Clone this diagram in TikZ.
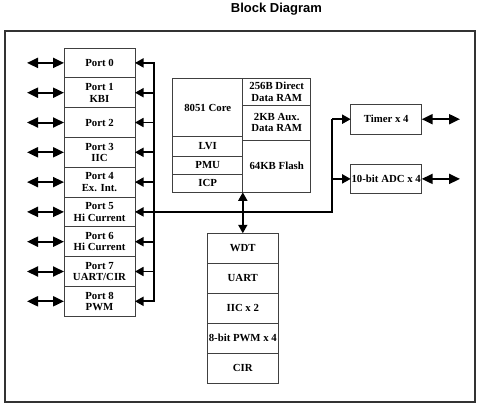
\documentclass[tikz,border=0pt]{standalone}
\usepackage{fontspec}
\setmainfont{Liberation Serif}
\newfontfamily\headfont{Liberation Sans}
\usetikzlibrary{arrows.meta,positioning}

\tikzset{
  blk/.style={draw=black!75,line width=0.8pt,outer sep=0pt,inner sep=0pt,
    minimum width=71pt,minimum height=29.8pt,align=center,
    font=\fontsize{10.8}{11.5}\selectfont\bfseries},
  bus/.style={line width=1.7pt},
  tip/.style={-{Triangle[length=8.5pt,width=9pt]}},
  both/.style={{Triangle[length=8.5pt,width=9pt]}-{Triangle[length=8.5pt,width=9pt]}},
  io/.style={{Triangle[length=11pt,width=10pt]}-{Triangle[length=11pt,width=10pt]},line width=2pt}
}

\begin{document}
\begin{tikzpicture}[x=1pt,y=-1pt]
\useasboundingbox (0,0) rectangle (480,407);
\node[anchor=base,font=\headfont\fontsize{13}{15}\selectfont\bfseries] (title) at (276.5,12.5) {Block Diagram};
\draw[black!80,line width=1.2pt] (5,31) rectangle (475,402);

% ports
\node[blk,anchor=north west] (p0) at (64,48) {Port 0};
\foreach \t [count=\i from 1, evaluate=\i as \j using int(\i-1)] in
  {{Port 1\\KBI},Port 2,{Port 3\\IIC},{Port 4\\Ex. Int.},{Port 5\\Hi Current},
   {Port 6\\Hi Current},{Port 7\\UART/CIR},{Port 8\\PWM}}
  \node[blk,below=0pt of p\j] (p\i) {\t};

% core
\node[blk,anchor=north west,minimum width=70pt,minimum height=58.4pt] (core) at (172.7,78.3) {8051 Core};
\node[blk,below=0pt of core,minimum width=70pt,minimum height=19.3pt] (lvi) {LVI};
\node[blk,below=0pt of lvi,minimum width=70pt,minimum height=18.3pt] (pmu) {PMU};
\node[blk,below=0pt of pmu,minimum width=70pt,minimum height=18pt] (icp) {ICP};
\node[blk,anchor=north west,minimum width=68pt,minimum height=27pt] (dram) at (core.north east) {256B Direct\\Data RAM};
\node[blk,below=0pt of dram,minimum width=68pt,minimum height=34.7pt] (aram) {2KB Aux.\\Data RAM};
\node[blk,below=0pt of aram,minimum width=68pt,minimum height=52.3pt] (flash) {64KB Flash};

% peripherals
\node[blk,anchor=north west,minimum height=30pt] (wdt) at (207.3,233.3) {WDT};
\node[blk,below=0pt of wdt,minimum height=30pt] (uart) {UART};
\node[blk,below=0pt of uart,minimum height=30pt] (iic) {IIC x 2};
\node[blk,below=0pt of iic,minimum height=30pt] (pwm) {8-bit PWM x 4};
\node[blk,below=0pt of pwm,minimum height=30pt] (cir) {CIR};

\node[blk,anchor=north west] (timer) at (350.7,104.3) {Timer x 4};
\node[blk,anchor=north west] (adc) at (350.7,164) {10-bit ADC x 4};

\coordinate (bx) at (154,0);
\coordinate (jx) at (332,0);
\coordinate (lx) at (27,0);
\coordinate (rx) at (460,0);

% bus
\draw[bus,line cap=rect] (p0.east -| bx) -- (p8.east -| bx);
\foreach \i in {0,...,8}
  \draw[bus,tip] (p\i.east -| bx) -- (p\i.east);
\draw[bus,line join=miter] (p5.east -| bx) -- (p5.east -| jx) -- (timer.west -| jx);
\draw[bus,tip] (timer.west -| jx) -- (timer.west);
\draw[bus,tip] (adc.west -| jx) -- (adc.west);
\draw[bus,both] (wdt.north) -- (wdt.north |- icp.south);

% pins
\foreach \i in {0,...,8}
  \draw[io] (p\i.west -| lx) -- (p\i.west);
\foreach \n in {timer,adc}
  \draw[io] (\n.east) -- (\n.east -| rx);
\end{tikzpicture}
\end{document}
